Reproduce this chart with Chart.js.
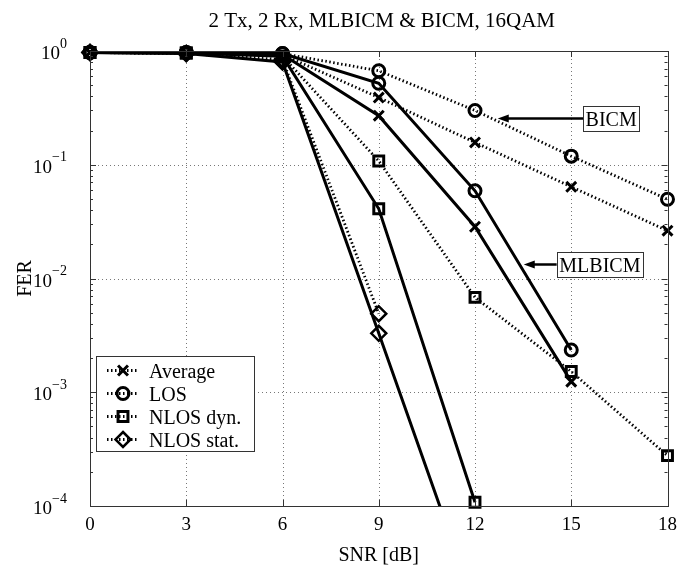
<!DOCTYPE html>
<html>
<head>
<meta charset="utf-8">
<script src="https://cdn.jsdelivr.net/npm/chart.js@4.4.0/dist/chart.umd.min.js"></script>
<style>
  html, body { margin: 0; padding: 0; background: #fff; }
  #wrap { width: 679px; height: 568px; }
</style>
</head>
<body>
<div id="wrap"><canvas id="ferChart" width="679" height="568"></canvas></div>
<script>
// SNR points (dB) and axis ticks
const snrValues = [0, 3, 6, 9, 12, 15, 18];
const xTicks = [0, 3, 6, 9, 12, 15, 18];
const yDecades = [0, -1, -2, -3, -4];

// BICM curves (dotted)
const avgBicm = [0.97, 0.96, 0.93, 0.39, 0.157, 0.064, 0.0263];
const losBicm = [0.97, 0.97, 0.95, 0.67, 0.30, 0.119, 0.0497];
const dynBicm = [0.97, 0.96, 0.90, 0.108, 0.00683, 0.00152, 0.000277];
const statBicm = [0.97, 0.95, 0.84, 0.0049];

// MLBICM curves (solid)
const avgMl = [0.97, 0.96, 0.93, 0.27, 0.0285, 0.00124];
const losMl = [0.97, 0.97, 0.95, 0.52, 0.059, 0.00235];
const dynMl = [0.97, 0.96, 0.90, 0.041, 0.000108];
const statMl = [0.97, 0.95, 0.80, 0.0033, 0.0000133];

const seriesNames = ['Average', 'LOS', 'NLOS dyn.', 'NLOS stat.'];
const titleText = '2 Tx, 2 Rx, MLBICM & BICM, 16QAM';
const xLabel = 'SNR [dB]';
const yLabel = 'FER';

// text labels with arrows, in data units: tip of arrow and left edge of box
const labels = [
  { text: 'BICM', tipX: 12.71, tipY: 0.256, boxX: 15.37 },
  { text: 'MLBICM', tipX: 13.52, tipY: 0.0133, boxX: 14.55 }
];

const FONT = '"Liberation Serif", "Times New Roman", serif';
const markers = [
  { style: 'crossRot', radius: 7, width: 3 },
  { style: 'circle', radius: 6, width: 3 },
  { style: 'rect', radius: 7, width: 3 },
  { style: 'rectRot', radius: 7.5, width: 2.5 }
];

function toPoints(vals) {
  return vals.map((v, i) => ({ x: snrValues[i], y: v }));
}

function makeDataset(name, vals, idx, dotted) {
  const m = markers[idx];
  const isClipped = vals.some(v => v < 1e-4);
  return {
    label: name,
    data: toPoints(vals),
    borderColor: '#000',
    backgroundColor: 'rgba(0,0,0,0)',
    borderWidth: dotted ? 2.8 : 3,
    borderDash: dotted ? [1.5, 2.5] : [],
    pointStyle: m.style,
    pointRadius: m.radius,
    pointBorderWidth: m.width,
    pointBorderColor: '#000',
    pointBackgroundColor: 'rgba(0,0,0,0)',
    tension: 0,
    clip: { left: 20, top: 20, right: 20, bottom: isClipped ? 0 : 20 }
  };
}

const bicmSets = [avgBicm, losBicm, dynBicm, statBicm];
const mlSets = [avgMl, losMl, dynMl, statMl];
const datasets = [];
bicmSets.forEach((vals, i) => datasets.push(makeDataset(seriesNames[i] + ' BICM', vals, i, true)));
mlSets.forEach((vals, i) => datasets.push(makeDataset(seriesNames[i] + ' MLBICM', vals, i, false)));

// small marker painter for the legend
function drawMarker(ctx, m, x, y) {
  ctx.save();
  ctx.strokeStyle = '#000';
  ctx.lineWidth = m.width;
  ctx.setLineDash([]);
  ctx.beginPath();
  const r = m.radius;
  if (m.style === 'circle') {
    ctx.arc(x, y, r, 0, Math.PI * 2);
  } else if (m.style === 'crossRot') {
    const d = r * Math.SQRT1_2;
    ctx.moveTo(x - d, y - d); ctx.lineTo(x + d, y + d);
    ctx.moveTo(x - d, y + d); ctx.lineTo(x + d, y - d);
  } else if (m.style === 'rect') {
    const d = r * Math.SQRT1_2;
    ctx.rect(x - d, y - d, 2 * d, 2 * d);
  } else {
    ctx.moveTo(x, y - r); ctx.lineTo(x + r, y); ctx.lineTo(x, y + r); ctx.lineTo(x - r, y); ctx.closePath();
  }
  ctx.stroke();
  ctx.restore();
}

const gridPlugin = {
  id: 'matlabGrid',
  beforeDatasetsDraw(chart) {
    const { ctx, chartArea: a, scales } = chart;
    ctx.save();
    ctx.strokeStyle = '#777';
    ctx.lineWidth = 1;
    ctx.setLineDash([1, 3]);
    xTicks.slice(1, -1).forEach(t => {
      const px = Math.round(scales.x.getPixelForValue(t)) + 0.5;
      ctx.beginPath(); ctx.moveTo(px, a.top); ctx.lineTo(px, a.bottom); ctx.stroke();
    });
    yDecades.slice(1, -1).forEach(k => {
      const py = Math.round(scales.y.getPixelForValue(Math.pow(10, k))) + 0.5;
      ctx.beginPath(); ctx.moveTo(a.left, py); ctx.lineTo(a.right, py); ctx.stroke();
    });
    ctx.restore();
  },
  afterDraw(chart) {
    const { ctx, chartArea: a, scales } = chart;
    ctx.save();
    // box and ticks
    ctx.strokeStyle = '#333';
    ctx.lineWidth = 1;
    ctx.setLineDash([]);
    ctx.strokeRect(Math.round(a.left) + 0.5, Math.round(a.top) + 0.5,
      Math.round(a.right - a.left), Math.round(a.bottom - a.top));
    ctx.beginPath();
    xTicks.forEach(t => {
      const px = Math.round(scales.x.getPixelForValue(t)) + 0.5;
      ctx.moveTo(px, a.bottom); ctx.lineTo(px, a.bottom - 6);
      ctx.moveTo(px, a.top); ctx.lineTo(px, a.top + 6);
    });
    yDecades.forEach(k => {
      const py = Math.round(scales.y.getPixelForValue(Math.pow(10, k))) + 0.5;
      ctx.moveTo(a.left, py); ctx.lineTo(a.left + 6, py);
      ctx.moveTo(a.right, py); ctx.lineTo(a.right - 6, py);
      if (k > -4) {
        for (let j = 2; j <= 9; j++) {
          const my = Math.round(scales.y.getPixelForValue(j * Math.pow(10, k - 1))) + 0.5;
          ctx.moveTo(a.left, my); ctx.lineTo(a.left + 3, my);
          ctx.moveTo(a.right, my); ctx.lineTo(a.right - 3, my);
        }
      }
    });
    ctx.stroke();

    // tick labels
    ctx.fillStyle = '#000';
    ctx.font = '19px ' + FONT;
    ctx.textAlign = 'center';
    ctx.textBaseline = 'alphabetic';
    xTicks.forEach(t => ctx.fillText(String(t), scales.x.getPixelForValue(t), a.bottom + 24));
    yDecades.forEach(k => {
      const py = scales.y.getPixelForValue(Math.pow(10, k));
      const exp = k === 0 ? '0' : '\u2212' + Math.abs(k);
      ctx.font = '14px ' + FONT;
      const ew = ctx.measureText(exp).width;
      ctx.textAlign = 'left';
      ctx.fillText(exp, 67 - ew, py - 3.5);
      ctx.font = '19px ' + FONT;
      ctx.textAlign = 'right';
      ctx.fillText('10', 67 - ew, py + 8);
    });

    // title and axis labels
    ctx.font = '21px ' + FONT;
    ctx.textAlign = 'center';
    ctx.fillText(titleText, (a.left + a.right) / 2 + 3, 27);
    ctx.font = '20px ' + FONT;
    ctx.fillText(xLabel, (a.left + a.right) / 2, a.bottom + 55);
    ctx.save();
    ctx.translate(31, (a.top + a.bottom) / 2);
    ctx.rotate(-Math.PI / 2);
    ctx.fillText(yLabel, 0, 0);
    ctx.restore();

    // arrow labels
    labels.forEach(l => {
      const tx = scales.x.getPixelForValue(l.tipX);
      const ty = Math.round(scales.y.getPixelForValue(l.tipY)) + 0.5;
      const bx = scales.x.getPixelForValue(l.boxX);
      ctx.font = '20px ' + FONT;
      const tw = ctx.measureText(l.text).width;
      const bw = tw + 5, bh = 25;
      ctx.strokeStyle = '#000';
      ctx.lineWidth = 2.5;
      ctx.beginPath(); ctx.moveTo(bx, ty); ctx.lineTo(tx + 8, ty); ctx.stroke();
      ctx.fillStyle = '#000';
      ctx.beginPath(); ctx.moveTo(tx, ty); ctx.lineTo(tx + 11, ty - 4); ctx.lineTo(tx + 11, ty + 4); ctx.closePath(); ctx.fill();
      ctx.fillStyle = '#fff';
      ctx.fillRect(bx, ty - bh / 2, bw, bh);
      ctx.lineWidth = 1;
      ctx.strokeStyle = '#333';
      ctx.strokeRect(Math.round(bx) + 0.5, Math.round(ty - bh / 2) + 0.5, Math.round(bw), bh);
      ctx.fillStyle = '#000';
      ctx.textAlign = 'left';
      ctx.fillText(l.text, bx + 2.5, ty + 7);
    });

    // legend
    const lx = 96.5, ly = 356.5, lw = 158, lh = 95;
    ctx.fillStyle = '#fff';
    ctx.fillRect(lx, ly, lw, lh);
    ctx.strokeStyle = '#333';
    ctx.lineWidth = 1;
    ctx.strokeRect(lx, ly, lw, lh);
    const rows = [370.5, 393.5, 416.5, 439.5];
    seriesNames.forEach((name, i) => {
      const ry = rows[i];
      ctx.strokeStyle = '#000';
      ctx.lineWidth = 2.8;
      ctx.setLineDash([1.5, 2.5]);
      ctx.beginPath(); ctx.moveTo(107, ry); ctx.lineTo(139, ry); ctx.stroke();
      ctx.setLineDash([]);
      drawMarker(ctx, markers[i], 123, ry);
      ctx.fillStyle = '#000';
      ctx.font = '20px ' + FONT;
      ctx.textAlign = 'left';
      ctx.fillText(name, 149, ry + 7);
    });
    ctx.restore();
  }
};

new Chart(document.getElementById('ferChart'), {
  type: 'line',
  data: { datasets: datasets },
  options: {
    responsive: false,
    animation: false,
    devicePixelRatio: 1,
    layout: { padding: { top: 51, right: 11.5, left: 0, bottom: 0 } },
    plugins: {
      legend: { display: false },
      title: { display: false },
      tooltip: { enabled: false }
    },
    scales: {
      x: {
        type: 'linear',
        min: 0,
        max: 18,
        grid: { display: false },
        border: { display: false },
        ticks: { display: false, stepSize: 3 },
        afterFit: s => { s.height = 62; }
      },
      y: {
        type: 'logarithmic',
        min: 1e-4,
        max: 1,
        grid: { display: false },
        border: { display: false },
        ticks: { display: false },
        afterFit: s => { s.width = 90; }
      }
    }
  },
  plugins: [gridPlugin]
});
</script>
</body>
</html>
